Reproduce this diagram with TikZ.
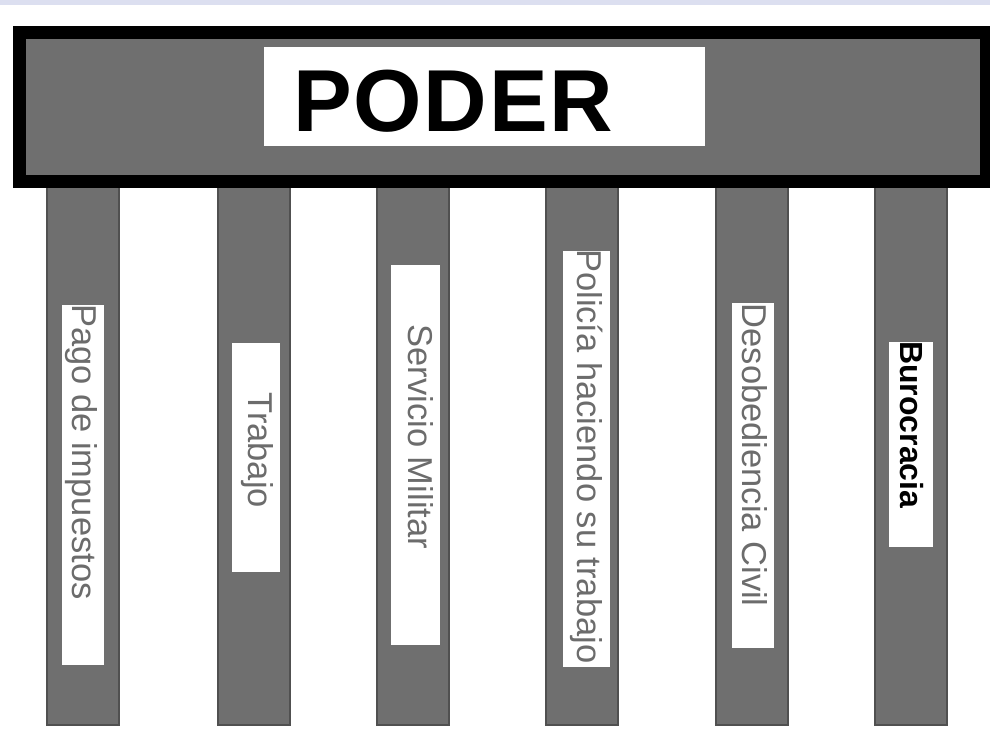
\documentclass[tikz,border=0pt]{standalone}
\usepackage{fontspec}
\setmainfont{Liberation Sans}
\usepackage{xcolor}
\definecolor{pilar}{HTML}{6F6F6F}
\definecolor{borde}{HTML}{505050}
\definecolor{letra}{HTML}{6C6C6C}
\definecolor{franja}{HTML}{DCDFF0}

\begin{document}
\begin{tikzpicture}[x=1pt,y=-1pt,
  etiqueta/.style={rotate=-90,anchor=base west,inner sep=0pt,text=letra,font=\fontsize{34.5}{34.5}\selectfont},
  caja/.style={fill=white}]
\useasboundingbox (0,0) rectangle (990,734);
\fill[franja] (0,0) rectangle (990,5);
\foreach \x in {47,218,377,546,716,875}
\filldraw[fill=pilar,draw=borde,line width=1.5pt] (\x,175) rectangle (\x+72,725);
\filldraw[fill=pilar,draw=black,line width=13pt] (19.5,32.5) rectangle (986.5,181.5);
\fill[caja] (264,47) rectangle (705,146);
\node[anchor=west,inner sep=0pt,font=\bfseries\fontsize{88}{88}\selectfont\addfontfeature{LetterSpace=2}] (poder) at (293,101.5) {PODER};
\fill[caja] (62,305) rectangle (104,665);
\fill[caja] (232,343) rectangle (280,572);
\fill[caja] (391,265) rectangle (440,645);
\fill[caja] (563,251) rectangle (610,667);
\fill[caja] (732,303) rectangle (774,648);
\fill[caja] (889,342) rectangle (933,547);
\node[etiqueta] (pago) at (72,304) {Pago de impuestos};
\node[etiqueta] (trabajo) at (248,392) {Trabajo};
\node[etiqueta] (servicio) at (408,324.5) {Servicio Militar};
\node[etiqueta] (policia) at (577,249) {Policía haciendo su trabajo};
\node[etiqueta] (desobediencia) at (742,303.5) {Desobediencia Civil};
\node[etiqueta,text=black,font=\bfseries\fontsize{32}{32}\selectfont] (burocracia) at (900,341) {Burocracia};
\end{tikzpicture}
\end{document}
